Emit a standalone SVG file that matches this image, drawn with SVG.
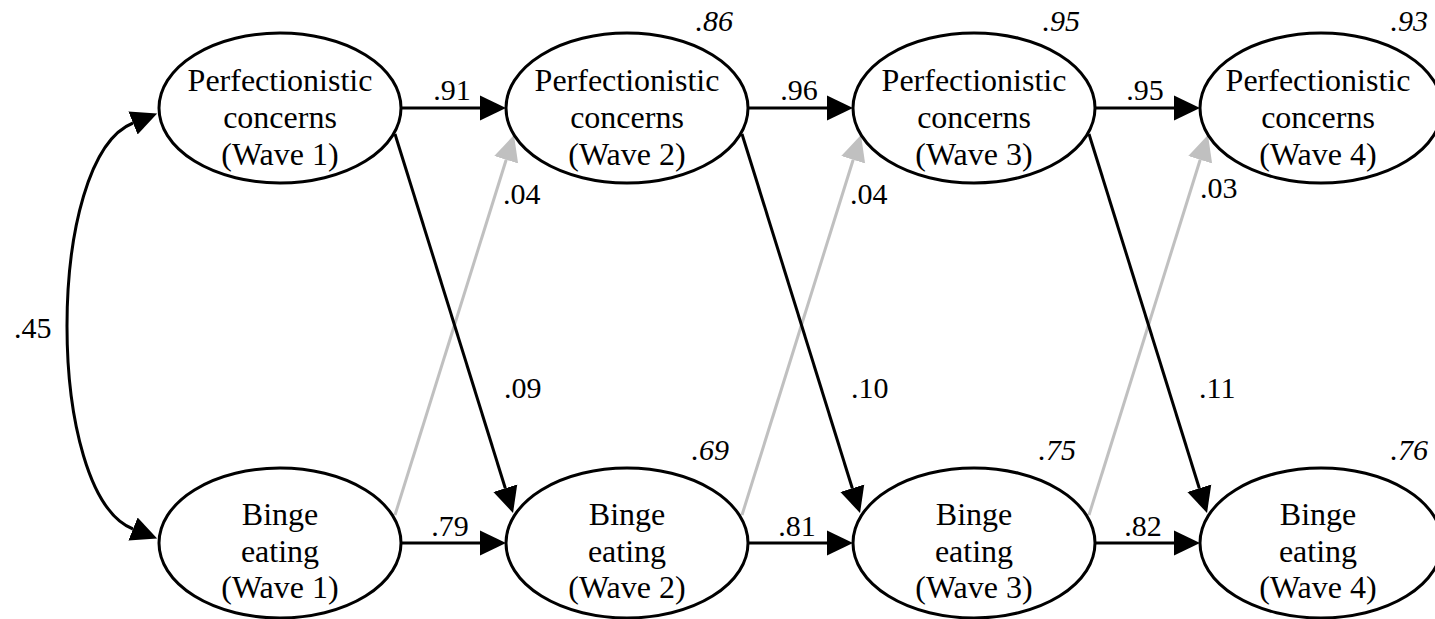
<svg xmlns="http://www.w3.org/2000/svg" width="1435" height="619" viewBox="0 0 1435 619">
<style>
.node ellipse{fill:#fff;stroke:#000;stroke-width:3}
.node text{font-family:"Liberation Serif","Times New Roman",serif;font-size:32px;text-anchor:middle;fill:#000}
.lbl{font-family:"Liberation Serif","Times New Roman",serif;font-size:30px;fill:#000}
.mid{text-anchor:middle}
.r2{font-style:italic;text-anchor:end}
.blk{stroke:#000;stroke-width:3;fill:none;marker-end:url(#ah)}
.gry{stroke:#c0c0c0;stroke-width:3;fill:none;marker-end:url(#ahg)}
</style>
<defs>
<marker id="ah" markerUnits="userSpaceOnUse" markerWidth="28" markerHeight="28" viewBox="0 -14 28 28" refX="0" refY="0" orient="auto">
<path d="M0,-12.5 L26,0 L0,12.5 z" fill="#000"/>
</marker>
<marker id="ahs" markerUnits="userSpaceOnUse" markerWidth="28" markerHeight="28" viewBox="0 -14 28 28" refX="0" refY="0" orient="auto-start-reverse">
<path d="M0,-12.5 L26,0 L0,12.5 z" fill="#000"/>
</marker>
<marker id="ahg" markerUnits="userSpaceOnUse" markerWidth="28" markerHeight="28" viewBox="0 -14 28 28" refX="0" refY="0" orient="auto">
<path d="M0,-12.5 L26,0 L0,12.5 z" fill="#c0c0c0"/>
</marker>
</defs>
<rect width="1435" height="619" fill="#fff"/>
<g id="connectors">
<path d="M133,123 C45,158 45,494 133,529" stroke="#000" stroke-width="3" fill="none" marker-start="url(#ahs)" marker-end="url(#ahs)"/>
<line class="blk" x1="401" y1="108" x2="480" y2="108"/>
<line class="blk" x1="748" y1="108" x2="827" y2="108"/>
<line class="blk" x1="1095" y1="108" x2="1174" y2="108"/>
<line class="blk" x1="401" y1="543" x2="480" y2="543"/>
<line class="blk" x1="748" y1="543" x2="827" y2="543"/>
<line class="blk" x1="1095" y1="543" x2="1174" y2="543"/>
<line class="gry" x1="395" y1="515" x2="506.2" y2="159.8"/>
<line class="gry" x1="742" y1="515" x2="853.2" y2="159.8"/>
<line class="gry" x1="1089" y1="515" x2="1200.2" y2="159.8"/>
<line class="blk" x1="395" y1="134" x2="505.3" y2="488.2"/>
<line class="blk" x1="742" y1="134" x2="852.3" y2="488.2"/>
<line class="blk" x1="1089" y1="134" x2="1199.3" y2="488.2"/>
<text class="lbl" x="14" y="338">.45</text>
<text class="lbl mid" x="452" y="100">.91</text>
<text class="lbl mid" x="799" y="100">.96</text>
<text class="lbl mid" x="1145" y="100">.95</text>
<text class="lbl mid" x="450" y="536">.79</text>
<text class="lbl mid" x="797" y="536">.81</text>
<text class="lbl mid" x="1143" y="536">.82</text>
<text class="lbl" x="503" y="204">.04</text>
<text class="lbl" x="850" y="204">.04</text>
<text class="lbl" x="1200" y="198">.03</text>
<text class="lbl" x="504" y="398">.09</text>
<text class="lbl" x="851" y="398">.10</text>
<text class="lbl" x="1199" y="398">.11</text>
<text class="lbl r2" x="733" y="31">.86</text>
<text class="lbl r2" x="1080" y="31">.95</text>
<text class="lbl r2" x="1428" y="31">.93</text>
<text class="lbl r2" x="729" y="460">.69</text>
<text class="lbl r2" x="1076" y="460">.75</text>
<text class="lbl r2" x="1428" y="460">.76</text>
</g>
<g id="pc1" class="node"><ellipse cx="280" cy="108" rx="121" ry="75"/><text x="280" y="91">Perfectionistic</text><text x="280" y="128">concerns</text><text x="280" y="165">(Wave 1)</text></g>
<g id="pc2" class="node"><ellipse cx="627" cy="108" rx="121" ry="75"/><text x="627" y="91">Perfectionistic</text><text x="627" y="128">concerns</text><text x="627" y="165">(Wave 2)</text></g>
<g id="pc3" class="node"><ellipse cx="974" cy="108" rx="121" ry="75"/><text x="974" y="91">Perfectionistic</text><text x="974" y="128">concerns</text><text x="974" y="165">(Wave 3)</text></g>
<g id="pc4" class="node"><ellipse cx="1321" cy="108" rx="121" ry="75"/><text x="1318" y="91">Perfectionistic</text><text x="1318" y="128">concerns</text><text x="1318" y="165">(Wave 4)</text></g>
<g id="be1" class="node"><ellipse cx="280" cy="543" rx="121" ry="75"/><text x="280" y="525">Binge</text><text x="280" y="562">eating</text><text x="280" y="598">(Wave 1)</text></g>
<g id="be2" class="node"><ellipse cx="627" cy="543" rx="121" ry="75"/><text x="627" y="525">Binge</text><text x="627" y="562">eating</text><text x="627" y="598">(Wave 2)</text></g>
<g id="be3" class="node"><ellipse cx="974" cy="543" rx="121" ry="75"/><text x="974" y="525">Binge</text><text x="974" y="562">eating</text><text x="974" y="598">(Wave 3)</text></g>
<g id="be4" class="node"><ellipse cx="1321" cy="543" rx="121" ry="75"/><text x="1318" y="525">Binge</text><text x="1318" y="562">eating</text><text x="1318" y="598">(Wave 4)</text></g>
</svg>
